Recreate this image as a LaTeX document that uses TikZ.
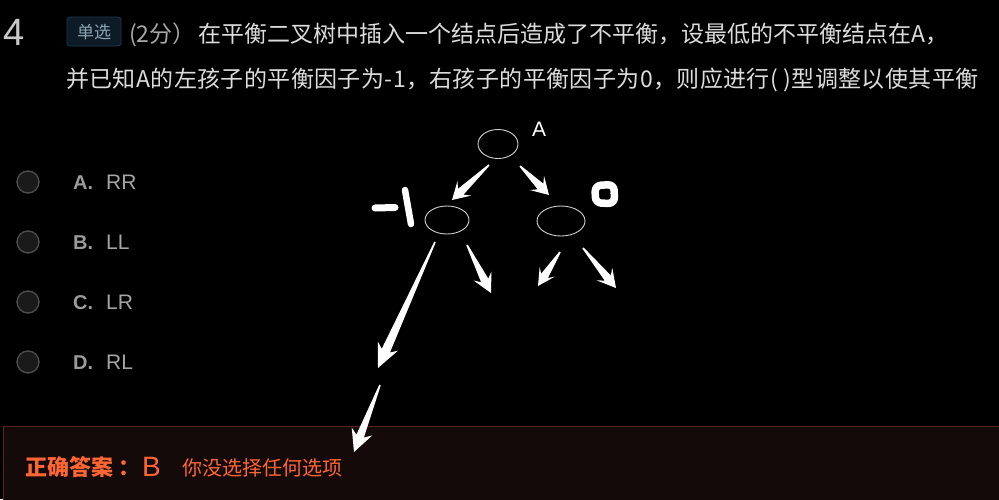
\documentclass[tikz,border=0pt]{standalone}
\usepackage{fontspec}
\setmainfont{Liberation Sans}
\newfontfamily\cjk{Noto Sans CJK SC}
\usetikzlibrary{calc,shapes.geometric}
\definecolor{qtext}{HTML}{DCDCDC}
\definecolor{qgray}{HTML}{A8A8A8}
\definecolor{numgray}{HTML}{C8C8C8}
\definecolor{tagfill}{HTML}{0D1B27}
\definecolor{tagline}{HTML}{1F3A50}
\definecolor{tagtext}{HTML}{8FA5B5}
\definecolor{optfill}{HTML}{1A1A1A}
\definecolor{optline}{HTML}{4C4C4C}
\definecolor{optletter}{HTML}{9B9B9B}
\definecolor{opttext}{HTML}{A5A5A5}
\definecolor{ansfill}{HTML}{140A0A}
\definecolor{ansline}{HTML}{5A2424}
\definecolor{ansorange}{HTML}{FF6633}
\definecolor{ellline}{HTML}{D0D0D0}
\tikzset{
  txt/.style={inner sep=0pt, anchor=base west},
  treenode/.style={ellipse, draw=ellline, line width=0.9pt, inner sep=0pt},
  optcircle/.style={circle, draw=optline, fill=optfill, line width=1.4pt, minimum size=22pt, inner sep=0pt},
  handink/.style={fill=white},
  handstroke/.style={draw=white, line cap=round, line join=round},
}
\newcommand\harrow[5]{%
  \path let \p1=(#1), \p2=(#2), \n1={atan2(\y2-\y1,\x2-\x1)}, \n2={veclen(\x2-\x1,\y2-\y1)} in
    \pgfextra{\xdef\harrowang{\n1}\xdef\harrowlen{\n2}};
  \begin{scope}[shift={(#1)}, rotate=\harrowang, x=1pt, y=1pt]
    \fill[handink] (0,-0.8) -- (\harrowlen-#3+3,-#5) -- (\harrowlen-#3-2,-#4) -- (\harrowlen,0)
      -- (\harrowlen-#3-2,#4) -- (\harrowlen-#3+3,#5) -- (0,0.8) -- cycle;
  \end{scope}}
\begin{document}
\begin{tikzpicture}[x=1pt, y=-1pt]
\useasboundingbox (0,0) rectangle (999,499);
\fill[black] (0,0) rectangle (999,499);
% header
\node[txt, text=numgray, font=\fontsize{38}{38}\selectfont] (num) at (3,45) {4};
\draw[tagline, fill=tagfill, rounded corners=3pt, line width=0.8pt] (67,17) rectangle (121,46);
\node[inner sep=0pt, text=tagtext, font=\cjk\fontsize{17}{17}\selectfont] (tag) at (94,32) {单选};
\node[txt, text=qgray, font=\cjk\fontsize{23}{23}\selectfont] (score) at (129,42) {(2分）};
\node[txt, text=qtext, font=\cjk\fontsize{23}{23}\selectfont] (q1) at (198,42) {在平衡二叉树中插入一个结点后造成了不平衡，设最低的不平衡结点在A，};
\node[txt, text=qtext, font=\cjk\fontsize{23}{23}\selectfont\addfontfeature{LetterSpace=1.7}] (q2) at (66,87) {并已知A的左孩子的平衡因子为-1，右孩子的平衡因子为0，则应进行( )型调整以使其平衡};
% options
\foreach \y/\l/\t [count=\i] in {182/A./RR, 242/B./LL, 302/C./LR, 362/D./RL}{
  \node[optcircle] (opt\i) at (28,\y) {};
  \node[txt, text=optletter, font=\bfseries\fontsize{20}{20}\selectfont] (optl\i) at (73,\y+7.5) {\l};
  \node[txt, text=opttext, font=\fontsize{21}{21}\selectfont] (optt\i) at (106,\y+7.5) {\t};
}
% answer box
\draw[ansline, fill=ansfill, line width=1pt] (3,426) rectangle (1002,502);
\node[txt, text=ansorange, font=\cjk\bfseries\fontsize{22}{22}\selectfont] (anslabel) at (25,475) {正确答案\kern5pt：};
\node[txt, text=ansorange, font=\fontsize{28}{28}\selectfont] (ansB) at (142,476) {B};
\node[txt, text=ansorange, font=\cjk\fontsize{20}{20}\selectfont] (ansnote) at (182,475) {你没选择任何选项};
% tree
\node[treenode, minimum width=40pt, minimum height=29pt] (root) at (498,144) {};
\node[treenode, minimum width=44pt, minimum height=28pt] (lc) at (447,220) {};
\node[treenode, minimum width=48pt, minimum height=30pt] (rc) at (561,221) {};
\node[txt, text=white, font=\fontsize{21}{21}\selectfont] (lblA) at (532,136) {A};
% handwritten balance factors
\draw[handstroke, line width=7pt] (375,208) -- (395,207.5);
\draw[handstroke, line width=6.5pt] (405,190) -- (411,224);
\draw[handstroke, line width=7.5pt, rounded corners=6pt] (595,185.5) -- (614,184.5) -- (614.5,203.5) -- (595.5,203) -- cycle;
% arrows
\coordinate (s1) at (489,165); \coordinate (t1) at (452,200);
\coordinate (s2) at (520,166); \coordinate (t2) at (549,195);
\coordinate (s3) at (467,245); \coordinate (t3) at (491,293);
\coordinate (s4) at (560,252); \coordinate (t4) at (538,286);
\coordinate (s5) at (583,248); \coordinate (t5) at (616,288);
\coordinate (s6) at (435,242); \coordinate (t6) at (378,368);
\coordinate (s7) at (380,385); \coordinate (t7) at (354,452);
\harrow{s1}{t1}{15}{10}{4}
\harrow{s2}{t2}{15}{10}{4}
\harrow{s3}{t3}{17}{10}{4}
\harrow{s4}{t4}{15}{9}{4}
\harrow{s5}{t5}{16}{10}{4}
\harrow{s6}{t6}{22}{11}{4.5}
\harrow{s7}{t7}{20}{11}{4}
\end{tikzpicture}
\end{document}
